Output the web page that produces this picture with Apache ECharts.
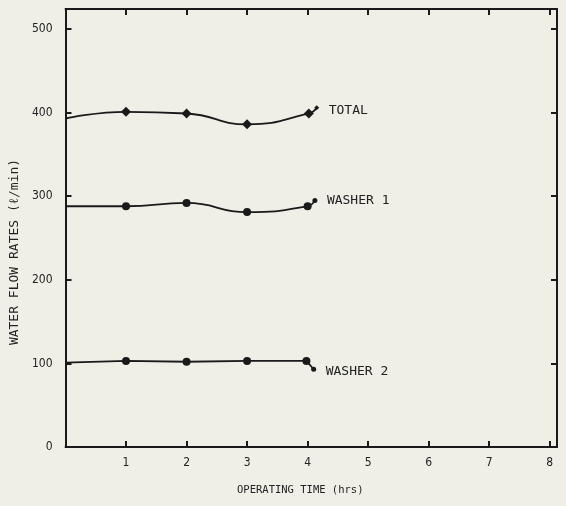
<!DOCTYPE html>
<html>
<head>
<meta charset="utf-8">
<script src="https://cdn.jsdelivr.net/npm/echarts@6/dist/echarts.min.js"></script>
<style>html,body{margin:0;padding:0;background:#efefe8;}#c{width:566px;height:506px;}</style>
</head>
<body>
<div id="c"></div>
<script>
// Data
var totalTime   = [0, 1, 2, 3, 4.02, 4.15];
var totalFlow   = [393, 401, 399, 386, 399, 406];
var washer1Time = [0, 1, 2, 3, 4.0, 4.12];
var washer1Flow = [288, 288, 292, 281, 288, 295];
var washer2Time = [0, 1, 2, 3, 3.98, 4.1];
var washer2Flow = [101, 103, 102, 103, 103, 93];
var seriesNames = ['TOTAL', 'WASHER 1', 'WASHER 2'];
var xTicks = [1, 2, 3, 4, 5, 6, 7, 8];
var yTicks = [0, 100, 200, 300, 400, 500];
var yTickMarks = [100, 200, 300, 400, 500];
var xTitle = 'OPERATING TIME (hrs)';
var yTitle = 'WATER FLOW RATES (\u2113/min)';

function pairs(xs, ys) {
  return xs.map(function (x, i) {
    var item = { value: [x, ys[i]] };
    if (i === 0) item.symbol = 'none';
    if (i === xs.length - 1) item.symbolSize = 5;
    return item;
  });
}

var ink = '#1a1a1a';
var labelFont = '"DejaVu Sans Mono", monospace';
var tickFont = '"DejaVu Sans Condensed", sans-serif';

function axis(extra, ticks) {
  return Object.assign({
    type: 'value',
    axisLine: { show: true, onZero: false, lineStyle: { color: ink, width: 2 } },
    axisTick: { show: true, inside: true, length: 6, customValues: ticks, lineStyle: { color: ink, width: 2 } },
    splitLine: { show: false }
  }, extra);
}

function seriesFor(name, xs, ys, sym, size, smooth, dy) {
  return {
    name: name,
    type: 'line',
    data: pairs(xs, ys),
    smooth: smooth,
    symbol: sym,
    symbolSize: size,
    showSymbol: true,
    lineStyle: { color: ink, width: 1.8 },
    itemStyle: { color: ink },
    endLabel: {
      show: true,
      formatter: name,
      color: '#222',
      fontFamily: labelFont,
      fontSize: 13,
      distance: 12,
      offset: [0, dy]
    },
    animation: false
  };
}

var chart = echarts.init(document.getElementById('c'));
chart.setOption({
  backgroundColor: '#efefe8',
  animation: false,
  grid: { left: 65.5, right: 9, top: 9, bottom: 59 },
  xAxis: [
    axis({
      min: 0, max: 8.12, interval: 1, position: 'bottom',
      axisLabel: { color: '#222', fontFamily: tickFont, fontSize: 12, margin: 10, customValues: xTicks },
      name: xTitle, nameLocation: 'middle', nameGap: 38,
      nameTextStyle: { color: '#222', fontFamily: labelFont, fontSize: 10.5, padding: [0, 22, 0, 0] }
    }, xTicks),
    axis({
      min: 0, max: 8.12, interval: 1, position: 'top',
      axisLabel: { show: false }
    }, xTicks)
  ],
  yAxis: [
    axis({
      min: 0, max: 524, interval: 100, position: 'left',
      axisLabel: { color: '#222', fontFamily: tickFont, fontSize: 12, margin: 13, customValues: yTicks },
      name: yTitle, nameLocation: 'middle', nameGap: 41, nameRotate: 90,
      nameTextStyle: { color: '#222', fontFamily: labelFont, fontSize: 13, padding: [0, 48, 0, 0] }
    }, yTickMarks),
    axis({
      min: 0, max: 524, interval: 100, position: 'right',
      axisLabel: { show: false }
    }, yTickMarks)
  ],
  series: [
    seriesFor(seriesNames[0], totalTime, totalFlow, 'diamond', 10, 0.5, 3),
    seriesFor(seriesNames[1], washer1Time, washer1Flow, 'circle', 8, 0.5, 0),
    seriesFor(seriesNames[2], washer2Time, washer2Flow, 'circle', 8, false, 2)
  ]
});
</script>
</body>
</html>
